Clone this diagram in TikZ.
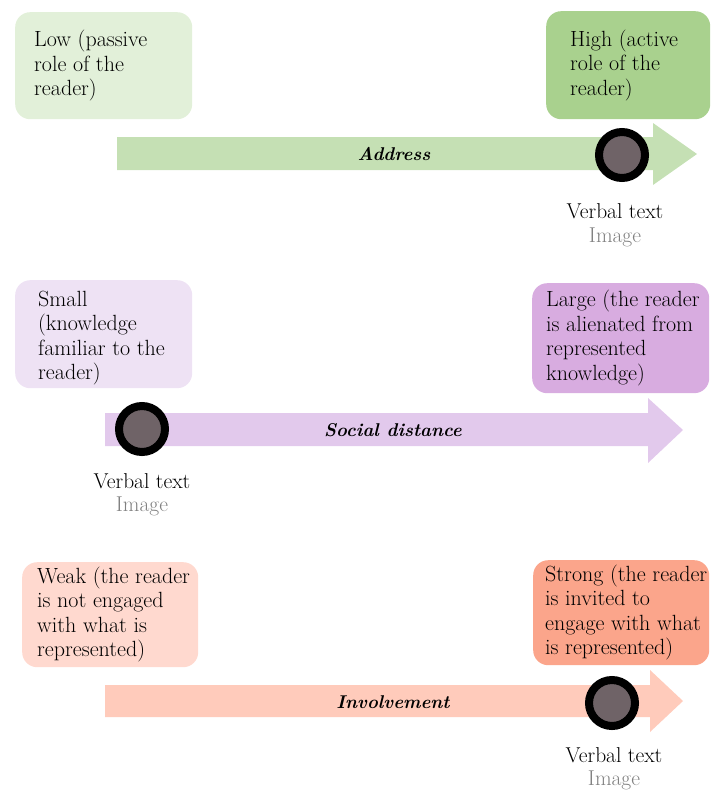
\documentclass[tikz,border=0pt]{standalone}
\definecolor{gLight}{HTML}{E2F0D9}
\definecolor{gDark}{HTML}{A9D18E}
\definecolor{gArrow}{HTML}{C5E0B4}
\definecolor{pLight}{HTML}{EEE2F4}
\definecolor{pDark}{HTML}{D8ACE0}
\definecolor{pArrow}{HTML}{E2C9EC}
\definecolor{sLight}{HTML}{FFD9CF}
\definecolor{sDark}{HTML}{FBA58B}
\definecolor{sArrow}{HTML}{FFCBBB}
\definecolor{dotFill}{HTML}{6F6367}
\definecolor{imgGray}{HTML}{808080}
\begin{document}
\begin{tikzpicture}[x=1pt,y=-1pt,
  panel/.style={rounded corners=15pt, draw=none, inner sep=0pt, anchor=north west},
  txt/.style={anchor=west, align=left, inner sep=0pt, font=\fontsize{22}{24.5}\selectfont},
  axislabel/.style={inner sep=0pt, font=\fontsize{18.5}{22}\selectfont\bfseries\itshape},
  marker/.style={circle, draw=black, line width=8pt, fill=dotFill, minimum size=46pt, inner sep=0pt},
  vtext/.style={inner sep=0pt, font=\fontsize{21.5}{24}\selectfont},
  itext/.style={inner sep=0pt, text=imgGray, font=\fontsize{21.5}{24}\selectfont}]
\useasboundingbox (0,0) rectangle (710,790);

% ---------- Address ----------
\fill[gArrow] (117,137) -- (653,137) -- (653,123) -- (697,154) -- (653,185) -- (653,170) -- (117,170) -- cycle;
\node[axislabel] (addr) at (394,154) {Address};
\node[panel, fill=gLight, minimum width=177pt, minimum height=107pt] (b1) at (15,12) {};
\node[txt] (t1) at ([xshift=19pt]b1.west) {Low (passive\\role of the\\reader)};
\node[panel, fill=gDark, minimum width=164pt, minimum height=108pt] (b2) at (546,11) {};
\node[txt] (t2) at ([xshift=24pt]b2.west) {High (active\\role of the\\reader)};
\node[marker] (m1) at (622,155) {};
\node[vtext] (v1) at (615,211) {Verbal text};
\node[itext] (i1) at (615,237) {Image};

% ---------- Social distance ----------
\fill[pArrow] (105,413) -- (648,413) -- (648,398) -- (683,430) -- (648,463) -- (648,446) -- (105,446) -- cycle;
\node[axislabel] (soc) at (393,430) {Social distance};
\node[panel, fill=pLight, minimum width=177pt, minimum height=108pt] (b3) at (15,280) {};
\node[txt] (t3) at ([xshift=23pt,yshift=-4pt]b3.west) {Small\\(knowledge\\familiar to the\\reader)};
\node[panel, fill=pDark, minimum width=177pt, minimum height=110pt] (b4) at (532,283) {};
\node[txt] (t4) at ([xshift=14pt]b4.west) {Large (the reader\\is alienated from\\represented\\knowledge)};
\node[marker] (m2) at (142,429) {};
\node[vtext] (v2) at (142,481) {Verbal text};
\node[itext] (i2) at (142,506) {Image};

% ---------- Involvement ----------
\fill[sArrow] (105,685) -- (650,685) -- (650,670) -- (683,701) -- (650,732) -- (650,717) -- (105,717) -- cycle;
\node[axislabel] (inv) at (393,702) {Involvement};
\node[panel, fill=sLight, minimum width=176pt, minimum height=105pt] (b5) at (22,562) {};
\node[txt] (t5) at ([xshift=15pt]b5.west) {Weak (the reader\\is not engaged\\with what is\\represented)};
\node[panel, fill=sDark, minimum width=176pt, minimum height=105pt] (b6) at (533,560) {};
\node[txt] (t6) at ([xshift=12pt]b6.west) {Strong (the reader\\is invited to\\engage with what\\is represented)};
\node[marker] (m3) at (612,703) {};
\node[vtext] (v3) at (614,755) {Verbal text};
\node[itext] (i3) at (614,780) {Image};
\end{tikzpicture}
\end{document}
